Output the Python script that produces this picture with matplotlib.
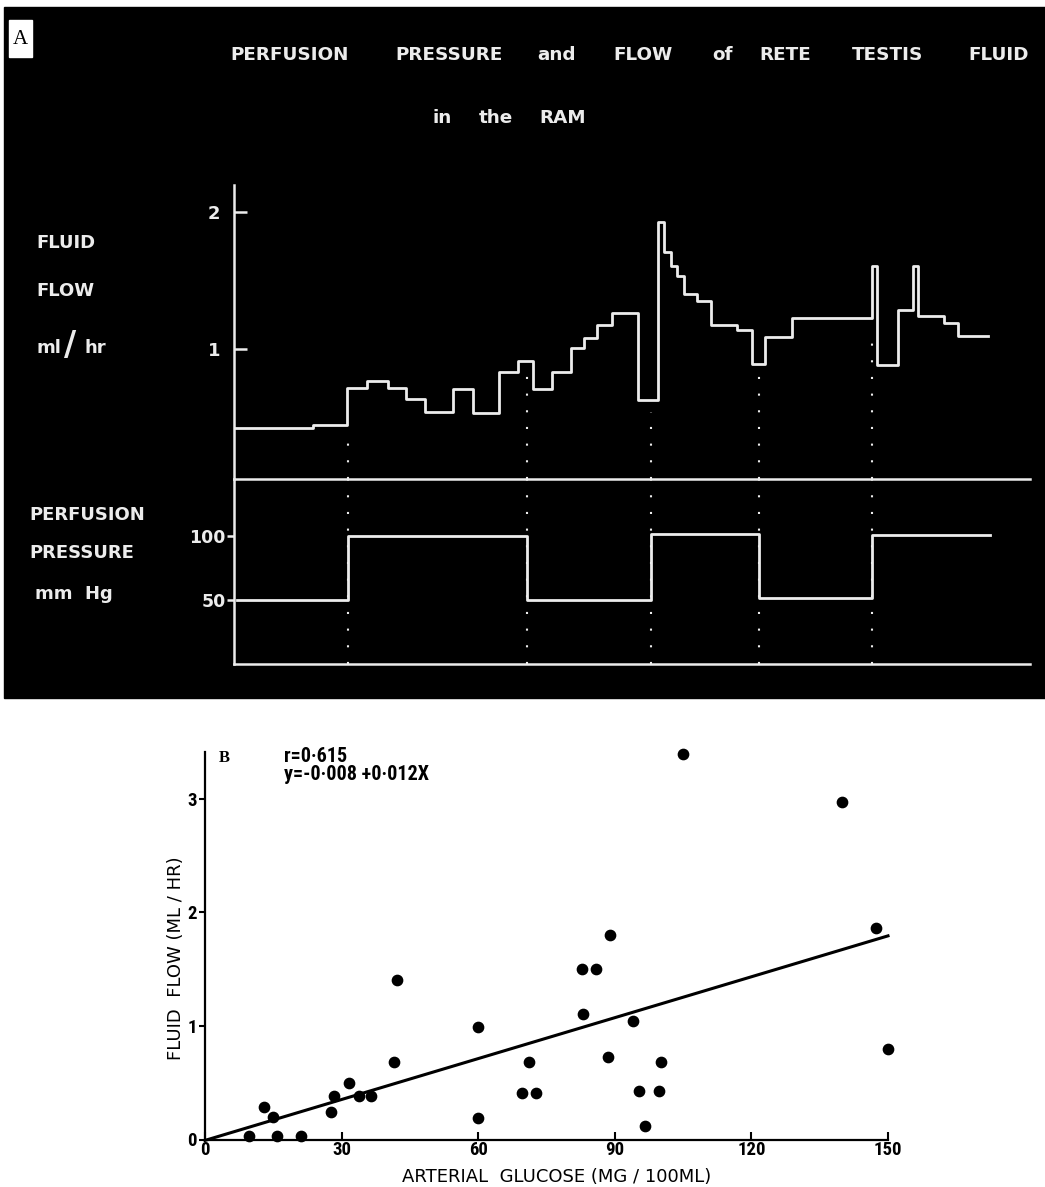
import matplotlib
matplotlib.use('Agg')
import matplotlib.pyplot as plt
from matplotlib.patches import Rectangle

# ---------------- Panel A data ----------------
flow_time = [0.0, 7.9, 11.3, 13.3, 15.4, 17.2, 19.1, 21.9, 23.9, 26.5, 28.4,
             29.9, 31.8, 33.7, 35.0, 36.3, 37.8, 40.4, 42.4, 43.0, 43.7, 44.3,
             45.0, 46.3, 47.7, 50.3, 51.8, 53.1, 55.8, 63.8, 64.3, 66.4, 67.9,
             68.4, 71.0, 72.4, 75.4]
flow_rate = [0.42, 0.444, 0.712, 0.768, 0.712, 0.636, 0.537, 0.705, 0.534, 0.83, 0.914,
             0.705, 0.83, 1.005, 1.083, 1.176, 1.266, 0.627, 1.931, 1.712, 1.607, 1.536,
             1.402, 1.351, 1.176, 1.139, 0.888, 1.09, 1.225, 1.607, 0.883, 1.285, 1.607,
             1.241, 1.188, 1.095, 1.095]
pressure_time = [0.3, 11.4, 29.3, 41.7, 52.5, 63.8, 75.6]
pressure_mmhg = [50, 100, 50, 101, 51, 100.5, 100.5]
change_times = [11.4, 29.3, 41.7, 52.5, 63.8]
dot_top_flow = [0.334, 0.846, 0.54, 0.83, 1.14]
flow_ticks = [1, 2]
pressure_ticks = [50, 100]

# ---------------- Panel B data ----------------
glucose = [9.7, 15.9, 21.0, 13.0, 14.9, 27.6, 28.3, 31.6, 33.9, 36.4, 41.4, 42.2,
           60.0, 60.0, 69.6, 71.2, 72.8, 82.7, 85.9, 83.1, 88.9, 88.6, 104.9, 139.8,
           147.4, 149.9, 93.9, 95.3, 99.8, 100.1, 96.7]
fluid_flow = [0.03, 0.03, 0.03, 0.29, 0.195, 0.245, 0.383, 0.495, 0.386, 0.386, 0.685, 1.40,
              0.99, 0.187, 0.407, 0.68, 0.407, 1.50, 1.50, 1.105, 1.80, 0.73, 3.39, 2.97,
              1.865, 0.797, 1.043, 0.427, 0.427, 0.68, 0.122]
reg_intercept = -0.008
reg_slope = 0.012
reg_x = [0, 150]
glucose_ticks = [0, 30, 60, 90, 120, 150]
flowB_ticks = [0, 1, 2, 3]

W, H = 1045, 1187
FUT = ['DejaVu Sans']
COND = ['Roboto Condensed', 'DejaVu Sans']
PLAIN = ['DejaVu Sans']
SERIF = ['Liberation Serif', 'DejaVu Serif']
plt.rcParams['font.family'] = PLAIN

fig = plt.figure(figsize=(W / 100, H / 100), dpi=100)
fig.patch.set_facecolor('white')


def fx(x):
    return x / W


def fy(y):
    return 1 - y / H


def ptxt(x, y, s, **kw):
    fig.text(fx(x), fy(y), s, **kw)


# black background of panel A
fig.patches.append(Rectangle((fx(4), fy(698)), 1 - fx(4), (698 - 7) / H,
                             transform=fig.transFigure, color='black', zorder=-10))
# "A" label box
fig.patches.append(Rectangle((fx(9), fy(57)), 23 / W, 37 / H,
                             transform=fig.transFigure, color='white', zorder=-5))
ptxt(20.5, 39, 'A', family=SERIF, fontsize=15, color='black', ha='center', va='center')

FG = '#ececec'
tkw = dict(family=FUT, color=FG, fontsize=13.2, fontweight='bold', va='center')
# title words
for word, x in [('PERFUSION', 230), ('PRESSURE', 395), ('and', 537), ('FLOW', 613),
                ('of', 712), ('RETE', 759), ('TESTIS', 852), ('FLUID', 968)]:
    ptxt(x, 55, word, ha='left', **tkw)
for word, x in [('in', 433), ('the', 479), ('RAM', 539)]:
    ptxt(x, 118, word, ha='left', **tkw)

# left side labels
lkw = dict(family=FUT, color=FG, fontsize=13, fontweight='bold', va='center', ha='left')
ptxt(36, 243, 'FLUID', **lkw)
ptxt(36, 291, 'FLOW', **lkw)
ptxt(36, 348, 'ml', **lkw)
ptxt(64, 346, '/', family=FUT, color=FG, fontsize=24, fontweight='bold', va='center', ha='left')
ptxt(84, 348, 'hr', **lkw)
ptxt(29, 515, 'PERFUSION', **lkw)
ptxt(29, 553, 'PRESSURE', **lkw)
ptxt(35, 594, 'mm  Hg', **lkw)

# flow axes
ax1 = fig.add_axes([fx(234), fy(479), (1030 - 234) / W, (479 - 185) / H])
ax1.set_facecolor('none')
ax1.set_xlim(0, 79.6)
ax1.set_ylim(0.049, 2.2)
for s in ['top', 'right']:
    ax1.spines[s].set_visible(False)
for s in ['left', 'bottom']:
    ax1.spines[s].set_color(FG)
    ax1.spines[s].set_linewidth(1.8)
ax1.set_xticks([])
ax1.set_yticks(flow_ticks)
ax1.set_yticklabels([str(v) for v in flow_ticks])
ax1.tick_params(axis='y', direction='in', length=9, width=1.8, color=FG,
                labelcolor=FG, labelsize=13, pad=10)
for lab in ax1.get_yticklabels():
    lab.set_fontweight('bold')
    lab.set_family(FUT)
ax1.step(flow_time, flow_rate, where='post', color=FG, lw=2.0)
ax1.vlines(change_times, 0.049, dot_top_flow, colors=FG, linestyles=(0, (1, 7)), lw=1.5)

# pressure axes
ax2 = fig.add_axes([fx(234), fy(664), (1030 - 234) / W, (664 - 479) / H])
ax2.set_facecolor('none')
ax2.set_xlim(0, 79.6)
ax2.set_ylim(0, 144)
for s in ['top', 'right']:
    ax2.spines[s].set_visible(False)
for s in ['left', 'bottom']:
    ax2.spines[s].set_color(FG)
    ax2.spines[s].set_linewidth(1.8)
ax2.set_xticks([])
ax2.set_yticks(pressure_ticks)
ax2.set_yticklabels([str(v) for v in pressure_ticks])
ax2.tick_params(axis='y', direction='out', length=5, width=1.8, color=FG,
                labelcolor=FG, labelsize=12.5, pad=1)
for lab in ax2.get_yticklabels():
    lab.set_fontweight('bold')
    lab.set_family(FUT)
ax2.step(pressure_time, pressure_mmhg, where='post', color=FG, lw=2.0)
ax2.vlines(change_times, 0, 144, colors=FG, linestyles=(0, (1, 7)), lw=1.5)

# ---------------- Panel B ----------------
ax3 = fig.add_axes([fx(205), fy(1139.5), (888 - 205) / W, (1139.5 - 752) / H])
ax3.set_xlim(0, 150)
ax3.set_ylim(0, 3.41)
for s in ['top', 'right']:
    ax3.spines[s].set_visible(False)
for s in ['left', 'bottom']:
    ax3.spines[s].set_linewidth(1.6)
ax3.scatter(glucose, fluid_flow, s=55, color='black', clip_on=False, zorder=3)
reg_y = [reg_intercept + reg_slope * x for x in reg_x]
ax3.plot(reg_x, reg_y, color='black', lw=2.2, clip_on=False)
ax3.set_xticks(glucose_ticks)
ax3.set_xticklabels([str(v) for v in glucose_ticks])
ax3.set_yticks(flowB_ticks)
ax3.set_yticklabels([str(v) for v in flowB_ticks])
ax3.tick_params(axis='x', direction='in', length=6, width=1.5, labelsize=13.5, pad=1)
ax3.tick_params(axis='y', direction='out', length=4, width=1.5, labelsize=13.5, pad=2)
for lab in ax3.get_xticklabels() + ax3.get_yticklabels():
    lab.set_fontweight('bold')
    lab.set_family(COND)

ptxt(557, 1177, 'ARTERIAL  GLUCOSE (MG / 100ML)', fontsize=13, ha='center', va='center')
ptxt(176, 958, 'FLUID  FLOW (ML / HR)', fontsize=13, ha='center', va='center', rotation=90)
ptxt(219, 758, 'B', family=SERIF, fontsize=12, fontweight='bold', ha='left', va='center')
ptxt(284, 757, 'r=0·615', family=COND, fontsize=14.5, fontweight='bold', ha='left', va='center')
ptxt(284, 774, 'y=-0·008 +0·012X', family=COND, fontsize=14.5, fontweight='bold', ha='left', va='center')

fig.savefig('out.png', dpi=100, facecolor='white')
